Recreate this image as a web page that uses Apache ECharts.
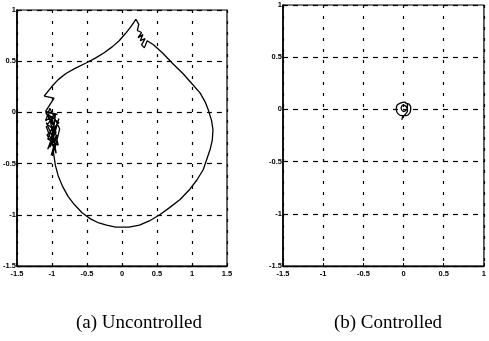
<!DOCTYPE html>
<html>
<head>
<meta charset="utf-8">
<script src="https://cdn.jsdelivr.net/npm/echarts@6/dist/echarts.min.js"></script>
<style>
  html, body { margin: 0; padding: 0; background: #fff; }
  #chart { width: 489px; height: 341px; }
</style>
</head>
<body>
<div id="chart"></div>
<script>
// Phase-plane trajectory without control: a large loop with jitter near the
// top and on the left side
const uncontrolledX = [
  0.20, 0.24, 0.22, 0.28, 0.23, 0.30, 0.26, 0.33, 0.28, 0.32, 0.36,
  0.45, 0.58, 0.72, 0.87, 1.00, 1.115, 1.19, 1.235, 1.28, 1.30, 1.29, 1.26,
  1.21, 1.16, 1.07, 0.97, 0.83, 0.68, 0.54, 0.39, 0.25, 0.10, -0.09, -0.22,
  -0.33, -0.45, -0.57, -0.68, -0.77, -0.85, -0.91, -0.95, -0.97, -0.98,
  -0.96, -1.01, -0.93, -1.03, -0.97, -1.06, -0.91, -1.00, -1.08, -0.94,
  -0.99, -1.05, -0.90, -1.07, -0.96, -0.89, -1.03, -1.09, -0.95, -1.00,
  -0.90, -1.06, -0.98, -1.08, -0.94, -1.02, -0.97, -1.09, -0.92,
  -1.09, -0.97, -1.11,
  -1.04, -0.98, -0.91, -0.80, -0.67, -0.52, -0.38, -0.26, -0.14, -0.04,
  0.05, 0.12, 0.17, 0.20
];
const uncontrolledY = [
  0.91, 0.86, 0.80, 0.78, 0.73, 0.76, 0.70, 0.72, 0.66, 0.63, 0.70,
  0.66, 0.58, 0.48, 0.38, 0.28, 0.19, 0.10, 0.02, -0.08, -0.17, -0.27, -0.36,
  -0.46, -0.56, -0.66, -0.75, -0.85, -0.93, -1.00, -1.06, -1.10, -1.12, -1.12, -1.10,
  -1.08, -1.04, -0.98, -0.90, -0.82, -0.72, -0.62, -0.52, -0.43, -0.38,
  -0.30, -0.42, -0.22, -0.34, -0.10, -0.26, -0.32, -0.05, -0.14, -0.40,
  -0.18, -0.02, -0.10, -0.22, -0.36, -0.16, 0.04, -0.08, -0.02, -0.30,
  -0.06, -0.36, -0.26, -0.10, -0.20, -0.04, -0.14, 0.00, -0.02,
  0.01, 0.14, 0.16,
  0.22, 0.27, 0.32, 0.38, 0.43, 0.48, 0.53, 0.58, 0.64, 0.70,
  0.77, 0.83, 0.88, 0.91
];

// With control the state stays in a small loop round the origin
const controlledX = [
  0.02, 0.07, 0.09, 0.08, 0.04, -0.02, -0.07, -0.09, -0.08, -0.04,
  0.01, 0.05, 0.04, 0.00, -0.03, -0.01, 0.03, 0.05, 0.02, -0.01, -0.02
];
const controlledY = [
  0.06, 0.05, 0.01, -0.03, -0.06, -0.06, -0.04, 0.00, 0.04, 0.06,
  0.07, 0.04, 0.00, -0.02, 0.01, 0.04, 0.03, -0.01, -0.05, -0.07, -0.10
];

const leftXTicks = [-1.5, -1, -0.5, 0, 0.5, 1, 1.5];
const rightXTicks = [-1.5, -1, -0.5, 0, 0.5, 1];
const yTicks = [-1.5, -1, -0.5, 0, 0.5, 1];

const captions = ['(a) Uncontrolled', '(b) Controlled'];

const pairs = (xs, ys) => xs.map((x, i) => [x, ys[i]]);

const labelStyle = {
  color: '#000',
  fontSize: 7.5,
  fontWeight: 'bold',
  fontFamily: 'Liberation Sans',
  formatter: v => String(v)
};

function xAxis(gridIndex, ticks) {
  return {
    type: 'value', gridIndex,
    min: ticks[0], max: ticks[ticks.length - 1], interval: 0.5,
    axisLine: { show: true, onZero: false, lineStyle: { color: '#000', width: 1.3 } },
    axisTick: { show: true, inside: true, length: 3, lineStyle: { color: '#000' } },
    axisLabel: Object.assign({ margin: 4, showMaxLabel: true, showMinLabel: true }, labelStyle),
    splitLine: { show: true, lineStyle: { color: '#000', type: [3, 8], width: 1.2 } }
  };
}

function yAxis(gridIndex) {
  return {
    type: 'value', gridIndex,
    min: yTicks[0], max: yTicks[yTicks.length - 1], interval: 0.5,
    axisLine: { show: true, onZero: false, lineStyle: { color: '#000', width: 1.6 } },
    axisTick: { show: false },
    axisLabel: Object.assign({ margin: 1 }, labelStyle),
    splitLine: { show: true, lineStyle: { color: '#000', type: [5, 5], width: 1.2 } }
  };
}

const captionStyle = { fontFamily: 'Liberation Serif', fontSize: 19, fontWeight: 'normal', color: '#000' };

const chart = echarts.init(document.getElementById('chart'), null, { renderer: 'canvas' });
chart.setOption({
  animation: false,
  backgroundColor: '#fff',
  title: [
    { text: captions[0], left: 139, top: 314, textAlign: 'center', padding: 0, textStyle: captionStyle },
    { text: captions[1], left: 388, top: 314, textAlign: 'center', padding: 0, textStyle: captionStyle }
  ],
  grid: [
    { left: 16, top: 10, width: 211, height: 256, show: true, borderColor: '#000', borderWidth: 1.2, backgroundColor: 'transparent' },
    { left: 283, top: 5, width: 203, height: 261, show: true, borderColor: '#000', borderWidth: 1.2, backgroundColor: 'transparent' }
  ],
  xAxis: [xAxis(0, leftXTicks), xAxis(1, rightXTicks)],
  yAxis: [yAxis(0), yAxis(1)],
  series: [
    {
      type: 'line', xAxisIndex: 0, yAxisIndex: 0,
      data: pairs(uncontrolledX, uncontrolledY),
      showSymbol: false, smooth: false,
      lineStyle: { color: '#000', width: 1.3 }
    },
    {
      type: 'line', xAxisIndex: 1, yAxisIndex: 1,
      data: pairs(controlledX, controlledY),
      showSymbol: false, smooth: 0.3,
      lineStyle: { color: '#000', width: 1.3 }
    }
  ]
});
</script>
</body>
</html>
